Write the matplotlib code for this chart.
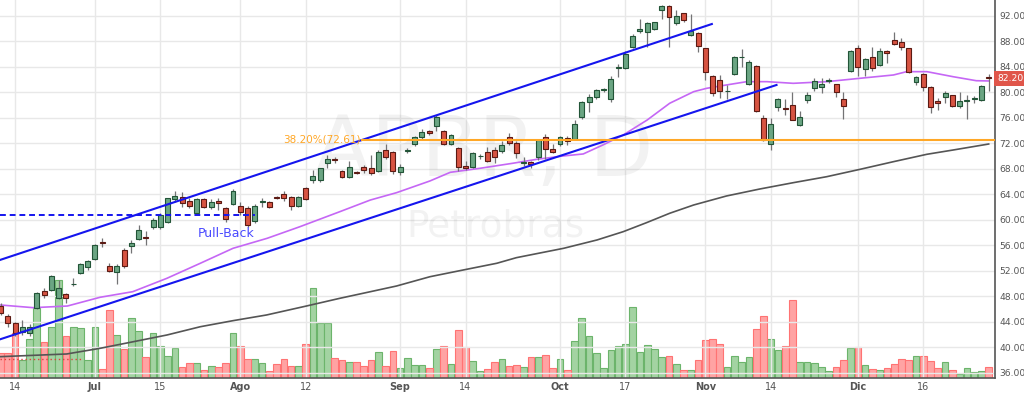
import matplotlib.pyplot as plt
import numpy as np

# daily OHLC (bar index 0 .. 136)
opens = [46.4, 44.9, 43.85, 42.4, 42.3, 46.2, 48.9, 49.0, 47.7, 48.4,
         49.85, 51.7, 52.6, 53.85, 56.45, 52.8, 51.75, 55.3, 55.95, 57.0,
         57.35, 58.8, 58.8, 59.7, 63.3, 63.55, 62.95, 61.0, 63.3, 62.0,
         62.9, 61.8, 62.5, 62.2, 61.8, 59.85, 62.8, 62.8, 63.55, 64.05,
         63.65, 62.2, 64.95, 66.25, 66.25, 68.9, 69.6, 67.7, 66.8, 67.45,
         68.35, 68.1, 67.7, 70.96, 70.6, 67.55, 70.8, 71.9, 72.95, 73.95,
         74.8, 73.95, 71.85, 71.2, 68.4, 68.35, 69.95, 70.7, 70.95, 70.85,
         73.05, 72.1, 68.9, 69.1, 69.9, 72.95, 71.1, 71.9, 72.9, 72.65,
         76.2, 78.55, 79.3, 80.35, 78.9, 83.85, 83.8, 87.2, 89.7, 89.45,
         89.9, 92.9, 93.6, 90.85, 92.4, 89.0, 89.4, 86.9, 82.6, 81.95,
         80.15, 82.9, 85.5, 81.4, 84.2, 75.95, 71.9, 77.65, 77.6, 78.1,
         74.9, 78.8, 80.65, 80.8, 81.8, 81.3, 79.0, 83.4, 86.9, 83.6,
         85.5, 84.35, 86.5, 88.2, 87.95, 86.9, 81.6, 82.9, 80.9, 78.7,
         79.3, 79.55, 77.9, 78.6, 79.0, 78.8, 82.35]
highs = [47.0, 45.2, 44.0, 44.2, 43.7, 48.6, 49.3, 51.3, 50.6, 48.5,
         50.8, 53.3, 53.7, 56.2, 57.2, 53.3, 53.0, 55.6, 56.9, 59.2,
         58.2, 60.3, 61.0, 63.5, 64.5, 64.4, 63.5, 63.4, 63.4, 63.2,
         63.4, 62.0, 64.8, 62.8, 62.1, 62.5, 63.5, 63.0, 63.8, 64.5,
         63.8, 63.8, 65.1, 67.8, 68.2, 70.1, 69.9, 67.9, 69.3, 67.6,
         68.6, 70.2, 71.0, 71.85, 70.8, 68.7, 71.2, 73.1, 74.3, 74.1,
         76.5, 74.1, 73.5, 71.4, 69.2, 70.6, 70.4, 71.4, 71.5, 72.3,
         73.6, 72.3, 69.8, 69.3, 72.6, 73.4, 71.9, 73.2, 73.2, 75.6,
         78.7, 79.8, 80.6, 80.7, 82.6, 84.4, 86.5, 89.2, 91.6, 91.0,
         91.1, 93.7, 93.7, 93.0, 92.5, 92.3, 89.5, 87.0, 82.7, 82.8,
         81.1, 85.7, 86.8, 85.1, 84.3, 76.5, 76.0, 79.1, 79.0, 80.0,
         77.1, 80.0, 82.2, 82.2, 82.3, 81.4, 80.0, 86.6, 87.4, 85.4,
         87.2, 87.0, 86.7, 89.5, 88.5, 87.0, 82.6, 83.0, 81.0, 79.2,
         80.3, 79.6, 80.0, 79.6, 79.5, 81.2, 82.9]
lows = [45.0, 43.2, 41.8, 41.9, 41.7, 46.0, 47.8, 48.9, 47.5, 46.9,
        49.6, 51.5, 52.1, 53.7, 55.7, 51.8, 50.0, 52.4, 54.8, 56.8,
        56.1, 58.6, 58.6, 59.5, 62.8, 62.0, 61.9, 60.9, 61.9, 61.7,
        61.6, 59.7, 62.3, 60.7, 58.9, 59.5, 62.0, 61.8, 63.3, 63.0,
        61.6, 62.0, 63.1, 65.75, 66.0, 68.2, 68.9, 66.6, 66.6, 67.2,
        67.4, 67.1, 67.5, 69.5, 67.2, 67.1, 70.5, 71.6, 72.7, 73.3,
        74.0, 71.7, 71.7, 67.6, 67.9, 68.2, 69.5, 69.1, 68.9, 70.5,
        71.8, 69.7, 68.4, 68.2, 69.4, 69.6, 70.5, 71.6, 71.8, 72.5,
        75.9, 76.9, 79.0, 80.1, 78.5, 82.5, 83.6, 87.0, 89.3, 87.2,
        89.8, 91.6, 87.2, 90.6, 91.1, 88.9, 86.4, 82.0, 79.4, 79.1,
        78.9, 82.7, 84.0, 81.2, 77.0, 72.3, 70.9, 77.1, 76.4, 75.6,
        74.8, 78.4, 80.3, 79.9, 81.5, 79.3, 75.9, 83.2, 82.6, 82.6,
        83.4, 84.1, 84.6, 87.5, 86.6, 83.1, 81.1, 80.3, 76.8, 77.3,
        78.3, 77.7, 77.6, 75.8, 78.4, 78.6, 80.2]
closes = [45.3, 43.85, 42.2, 43.2, 43.2, 48.45, 48.2, 51.2, 49.35, 47.7,
          50.0, 53.1, 53.5, 56.05, 56.35, 52.0, 52.75, 52.75, 56.3, 58.4,
          57.15, 59.9, 60.8, 63.4, 63.7, 62.7, 62.2, 63.3, 62.0, 62.85,
          62.6, 60.2, 64.6, 61.3, 59.2, 62.2, 62.9, 62.0, 63.4, 63.5,
          62.2, 63.55, 63.3, 66.9, 68.1, 69.55, 69.45, 66.8, 68.25, 67.3,
          67.85, 67.3, 70.7, 69.9, 67.7, 68.35, 70.9, 72.95, 73.85, 73.6,
          76.1, 71.85, 73.3, 68.35, 68.1, 70.45, 70.05, 69.3, 69.9, 71.75,
          72.1, 70.45, 69.1, 68.7, 72.5, 71.05, 70.6, 72.95, 72.4, 75.05,
          78.55, 79.3, 80.4, 80.45, 82.1, 83.95, 86.05, 88.85, 89.9, 90.85,
          91.0, 93.6, 91.9, 92.0, 91.3, 89.65, 87.3, 83.25, 79.85, 80.3,
          80.25, 85.5, 85.6, 84.8, 77.1, 72.5, 75.05, 79.0, 77.35, 75.7,
          76.1, 79.6, 81.85, 81.3, 81.9, 80.1, 77.9, 86.5, 84.05, 85.2,
          83.9, 86.45, 86.2, 87.6, 87.2, 83.25, 82.4, 80.8, 77.75, 78.4,
          79.85, 77.9, 78.6, 78.75, 79.15, 81.05, 82.2]
volumes = [25, 25, 45, 18, 39, 70, 36, 51, 98, 42,
           51, 50, 18, 51, 9, 68, 43, 29, 60, 47,
           21, 45, 32, 22, 30, 11, 15, 15, 8, 12,
           11, 15, 45, 32, 19, 19, 15, 7, 14, 19,
           12, 12, 34, 90, 55, 55, 20, 18, 16, 16,
           12, 18, 26, 12, 27, 10, 20, 13, 13, 10,
           29, 32, 14, 48, 31, 17, 7, 9, 16, 19,
           12, 13, 11, 21, 21, 23, 10, 19, 8, 37,
           60, 42, 25, 10, 28, 32, 34, 71, 26, 33,
           29, 21, 22, 14, 8, 8, 18, 38, 39, 34,
           11, 22, 16, 21, 49, 62, 39, 28, 32, 78,
           16, 16, 15, 11, 7, 11, 18, 30, 31, 13,
           9, 8, 10, 14, 19, 18, 22, 22, 17, 10,
           16, 8, 4, 10, 6, 7, 11]

# moving averages read at sample bars
ma_fast_x = [0, 4.5, 9.2, 13.7, 18.2, 22.9, 27.5, 32.0, 36.7, 41.2, 46.7, 50.9,
             54.5, 59.1, 61.9, 66.0, 70.5, 73.8, 77.4, 80.2, 82.9, 85.7, 89.0,
             92.1, 95.4, 97.2, 99.9, 102.7, 105.5, 109.1, 113.7, 118.3, 122.9,
             124.7, 127.5, 131.1, 134.3, 136]
ma_fast_y = [46.63, 46.21, 46.47, 47.84, 48.72, 50.82, 53.18, 55.53, 57.1, 58.92,
             61.28, 63.11, 64.26, 66.1, 67.46, 68.09, 68.88, 69.5, 70.02, 70.34,
             71.75, 73.32, 75.67, 78.3, 80.12, 80.65, 81.17, 81.69, 81.69, 81.43,
             81.69, 82.22, 82.74, 83.26, 83.26, 82.47, 81.84, 81.8]
ma_slow_x = [0, 9.1, 13.7, 18.3, 22.9, 27.5, 32.0, 36.6, 42.1, 46.7, 49.9, 54.5,
             59.1, 63.7, 68.3, 71.0, 77.5, 82.1, 85.7, 88.9, 92.1, 95.4, 99.9,
             104.5, 109.1, 113.7, 118.3, 122.9, 127.5, 131.1, 136]
ma_slow_y = [38.52, 38.94, 39.83, 40.87, 41.92, 43.22, 44.17, 45.06, 46.47, 47.68,
             48.47, 49.61, 51.07, 52.13, 53.18, 54.06, 55.53, 56.84, 58.14, 59.55,
             61.03, 62.33, 63.74, 64.84, 65.83, 66.77, 67.93, 69.13, 70.29, 70.96,
             71.9]

tick_pos = [2, 13, 22, 33, 42, 55, 64, 77, 86, 97, 106, 118, 127]
tick_lbl = ['14', 'Jul', '15', 'Ago', '12', 'Sep', '14', 'Oct', '17', 'Nov', '14', 'Dic', '16']
months = ['Jul', 'Ago', 'Sep', 'Oct', 'Nov', 'Dic']

fib_level = 72.61
pullback_level = 60.76
upper_line = ([-0.07, 97.9], [53.7, 90.74])
lower_line = ([-0.07, 106.8], [41.24, 81.17])

n = len(closes)
x = np.arange(n)
o = np.array(opens); c = np.array(closes)
up = c >= o

fig = plt.figure(figsize=(10.24, 3.94), dpi=100)
pos = [0, 16 / 394, 995 / 1024, 378 / 394]
axv = fig.add_axes(pos)
ax = fig.add_axes(pos)
ax.patch.set_visible(False)

xlim = (-0.07, 136.87)

# volume
vol = np.array(volumes)
axv.bar(x[up], vol[up], width=0.92, color='#a3d3a2', edgecolor='#6cb46b', linewidth=0.8)
axv.bar(x[~up], vol[~up], width=0.92, color='#ffa3a3', edgecolor='#ff7373', linewidth=0.8)
axv.set_xlim(*xlim)
axv.set_ylim(0, 378)
axv.axis('off')

ax.set_xlim(*xlim)
ax.set_ylim(35.17, 94.51)
yt = np.arange(36, 93, 4)
ax.set_yticks(yt)
ax.set_yticklabels([f'{v:.2f}' for v in yt])
ax.set_xticks(tick_pos)
ax.set_xticklabels(tick_lbl)
ax.grid(True, color='#e8e8e8', linewidth=1)
ax.set_axisbelow(True)
ax.yaxis.tick_right()
ax.tick_params(axis='both', length=0, labelsize=7, labelcolor='#555555')
ax.tick_params(axis='y', pad=3, labelsize=6.6)
ax.tick_params(axis='x', pad=3)
for t in ax.get_xticklabels():
    if t.get_text() in months:
        t.set_fontweight('bold')
for s in ['left', 'top']:
    ax.spines[s].set_visible(False)
for s in ['right', 'bottom']:
    ax.spines[s].set_color('#555555')
    ax.spines[s].set_linewidth(1.2)

# watermark
ax.text(66.5, 70.6, 'APBR, D', fontsize=60, color='#000000', alpha=0.05,
        ha='center', va='center', zorder=1)
ax.text(68.1, 58.9, 'Petrobras', fontsize=27, color='#000000', alpha=0.05,
        ha='center', va='center', zorder=1)

# moving averages
ax.plot(ma_slow_x, ma_slow_y, color='#555555', linewidth=1.2, zorder=2)
ax.plot(ma_fast_x, ma_fast_y, color='#c567f5', linewidth=1.2, zorder=2)

# candles
ax.vlines(x, lows, highs, color='#737375', linewidth=0.9, zorder=3)
body_h = np.maximum(np.abs(c - o), 0.12)
body_b = np.minimum(o, c)
ax.bar(x[up], body_h[up], bottom=body_b[up], width=0.68, color='#6ba583',
       edgecolor='#225437', linewidth=0.8, zorder=4)
ax.bar(x[~up], body_h[~up], bottom=body_b[~up], width=0.68, color='#d75442',
       edgecolor='#5b1a13', linewidth=0.8, zorder=4)

# drawings
ax.plot(*upper_line, color='#1515ee', linewidth=1.5, zorder=5)
ax.plot(*lower_line, color='#1515ee', linewidth=1.5, zorder=5)
ax.plot([-0.07, 35.0], [pullback_level, pullback_level], color='#1515ee',
        linewidth=1.4, linestyle=(0, (3, 2)), zorder=5)
ax.text(31.0, 57.9, 'Pull-Back', color='#4a4aff', fontsize=9, ha='center', va='center', zorder=5)
ax.plot([-0.07, 11.2], [38.1, 38.1], color='#e04040', linewidth=1, linestyle=(0, (1, 2)), zorder=5)
ax.plot([49.8, 136.87], [fib_level, fib_level], color='#ffa726', linewidth=1.5, zorder=5)
ax.text(49.6, fib_level, f'38.20%({fib_level})', color='#ffa726', fontsize=7.5,
        ha='right', va='center', zorder=5)

# last price label
ax.text(1.002, closes[-1], f'{closes[-1]:.2f}', transform=ax.get_yaxis_transform(),
        fontsize=6.6, color='white', ha='left', va='center', zorder=6, clip_on=False,
        bbox=dict(boxstyle='square,pad=0.3', facecolor='#e0564a', edgecolor='none'))

fig.savefig('out.png', dpi=100, facecolor='white')
